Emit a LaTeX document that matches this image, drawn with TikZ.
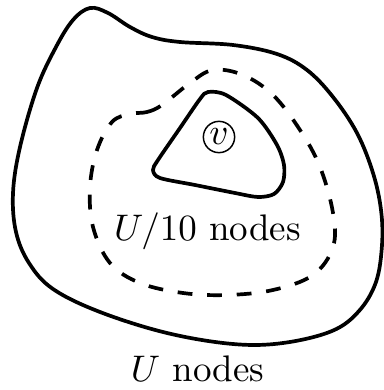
\documentclass[tikz,border=0pt]{standalone}
\usepackage{amsmath,amssymb}
\usepackage{tikz}

\begin{document}
\begin{tikzpicture}[x=0.095mm,y=-0.095mm,line join=round]
  \useasboundingbox (0,0) rectangle (383,390);
  \tikzset{region/.style={line width=1pt},
    ball/.style={line width=1pt,dash pattern=on 4pt off 4pt}}
  % whole graph
  \draw[region] plot[smooth cycle,tension=.6] coordinates
   {(90,8) (108,13) (130,27) (152,37) (180,42) (233,45) (277,54) (307,70)
    (333,97) (357,133) (373,173) (381,210) (382,245) (376,282)
    (359,311) (332,331) (283,343) (233,344) (167,333) (100,312)
    (53,289) (29,263) (16,232) (13,193) (20,147) (37,88) (56,47) (73,20)};
  % neighbourhood of v
  \draw[ball] plot[smooth cycle,tension=.6] coordinates
   {(130,114) (147,112) (162,105) (190,83) (213,70) (243,75) (273,95)
    (300,130) (320,167) (333,213) (333,247) (313,275) (273,290)
    (227,295) (183,293) (140,283) (110,263) (93,227) (90,187)
    (97,150) (112,122)};
  % cluster around v
  \draw[region] plot[smooth cycle,tension=.5] coordinates
   {(208,92) (226,95) (258,118) (277,145) (284,165) (283,182)
    (274,194) (258,197) (235,193) (195,185) (160,178) (153,170) (158,160)
    (180,128) (200,99)};
  \node[draw,circle,thin,inner sep=.6pt] (v) at (219,137) {$v$};
  \node[anchor=base] (inner) at (207.5,240.5) {$U/10$ nodes};
  \node[anchor=base] (outer) at (197.5,381) {$U$ nodes};
\end{tikzpicture}
\end{document}
